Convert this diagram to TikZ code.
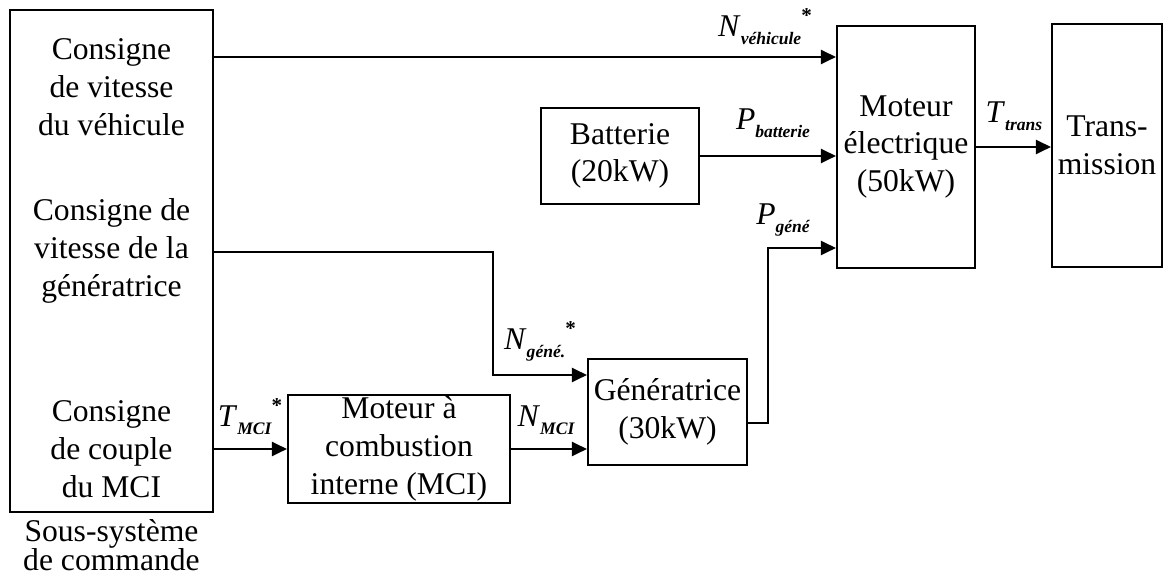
\documentclass[tikz,border=0pt]{standalone}
\usepackage{fontspec}
\setmainfont{Liberation Serif}
\usetikzlibrary{arrows.meta}
\newcommand{\sigsub}[2]{\textit{#1}\raisebox{-4.5pt}{\fontsize{10}{10}\selectfont\bfseries\itshape #2}}
\newcommand{\sigref}[2]{\sigsub{#1}{#2}\raisebox{8pt}{\fontsize{12}{12}\selectfont\bfseries *}}

\begin{document}
\begin{tikzpicture}[x=1cm,y=1cm,
  box/.style={draw,line width=1.2pt,align=center,inner sep=0pt},
  sigline/.style={line width=1.2pt,-{Triangle[length=0.3cm,width=0.28cm]}},
  lbl/.style={anchor=base,inner sep=0pt},
  font=\fontsize{18}{21.5}\selectfont]
\path[use as bounding box] (0,0) rectangle (23.36,11.64);
\node[box,minimum width=4.06cm,minimum height=10.04cm] (cmd) at (2.23,6.42) {};
\node[align=center] (cmdveh) at (2.23,9.90) {Consigne\\de vitesse\\du véhicule};
\node[align=center] (cmdgen) at (2.23,6.62) {Consigne de\\vitesse de la\\génératrice};
\node[align=center] (cmdmci) at (2.23,2.66) {Consigne\\de couple\\du MCI};
\node[align=center,anchor=north,font=\fontsize{18}{16.5}\selectfont] (cmdcap) at (2.23,1.38) {Sous-système\\de commande};
\node[box,minimum width=4.44cm,minimum height=2.16cm] (mci) at (7.98,2.66) {Moteur à\\combustion\\interne (MCI)};
\node[box,minimum width=3.18cm,minimum height=2.12cm] (gen) at (13.35,3.40) {Génératrice\\(30kW)};
\node[box,minimum width=3.16cm,minimum height=1.92cm] (bat) at (12.40,8.52) {Batterie\\(20kW)};
\node[box,minimum width=2.76cm,minimum height=4.84cm] (mot) at (18.12,8.70) {Moteur\\électrique\\(50kW)};
\node[box,minimum width=2.20cm,minimum height=4.86cm] (trs) at (22.14,8.73) {Trans-\\mission};
\coordinate (cv) at (cmd.east |- 0,10.50);
\coordinate (cg) at (cmd.east |- 0,6.60);
\coordinate (ng) at (gen.west |- 0,4.14);
\coordinate (pg) at (mot.west |- 0,6.68);
\draw[sigline] (cv) -- (cv -| mot.west);
\draw[sigline] (bat.east) -- (bat.east -| mot.west);
\draw[sigline] ([yshift=-0.22cm]gen.east) -| ([xshift=-1.36cm]pg) -- (pg);
\draw[sigline] (mot.east) -- (mot.east -| trs.west);
\draw[sigline] (cg) -| ([xshift=-1.88cm]ng) -- (ng);
\draw[sigline] (cmd.east |- mci.west) -- (mci.west);
\draw[sigline] (mci.east) -- (mci.east -| gen.west);
\node[lbl] (nveh) at (15.30,10.90) {\sigref{N}{véhicule}};
\node[lbl] (pbat) at (15.46,9.04) {\sigsub{P}{batterie}};
\node[lbl] (pgen) at (15.66,7.14) {\sigsub{P}{géné}};
\node[lbl] (ttrs) at (20.28,9.18) {\sigsub{T}{trans}};
\node[lbl] (ngen) at (10.80,4.64) {\sigref{N}{géné.}};
\node[lbl] (nmci) at (10.92,3.10) {\sigsub{N}{MCI}};
\node[lbl] (tmci) at (5.00,3.10) {\sigref{T}{MCI}};
\end{tikzpicture}
\end{document}
